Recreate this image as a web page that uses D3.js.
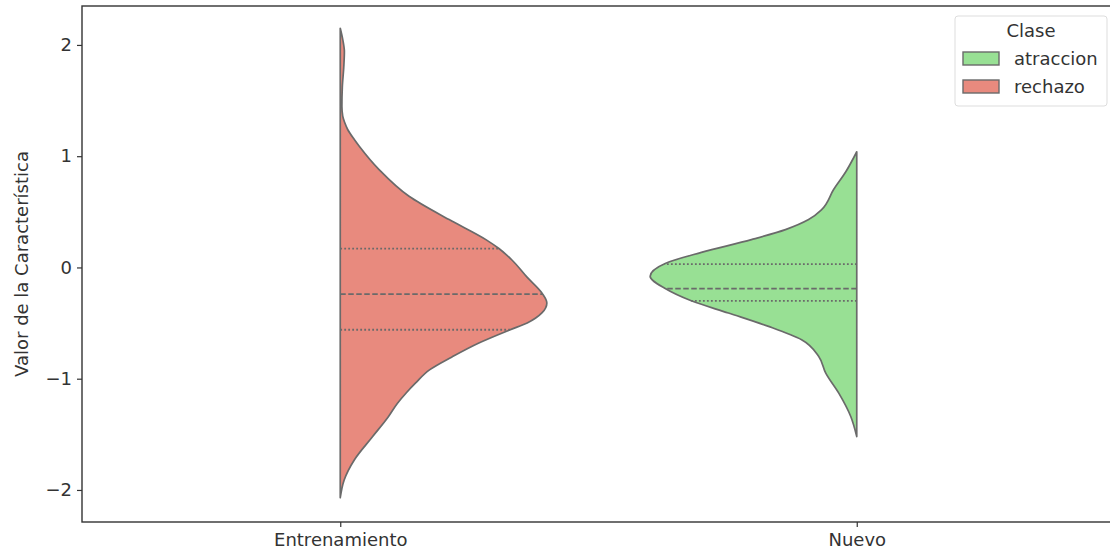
<!DOCTYPE html>
<html>
<head>
<meta charset="utf-8">
<script src="https://cdn.jsdelivr.net/npm/d3@7"></script>
<style>
  body { margin: 0; background: #fff; }
  svg { display: block; font-family: "DejaVu Sans", sans-serif; }
</style>
</head>
<body>
<div id="chart"></div>
<script>
// Categories and hue levels
const categories = ['Entrenamiento', 'Nuevo'];
const hues = ['atraccion', 'rechazo'];
const yTicks = [-2, -1, 0, 1, 2];

// Density profiles (value, relative width), top to bottom
const rechazoValues = [2.15, 2.05, 1.94, 1.80, 1.62, 1.45, 1.36, 1.30, 1.24, 1.15, 1.09, 0.88, 0.64, 0.43, 0.25, 0.17, 0.067, -0.085, -0.229, -0.319, -0.409, -0.499, -0.562, -0.679, -0.804, -0.921, -1.038, -1.128, -1.218, -1.344, -1.524, -1.73, -1.91, -2.07];
const rechazoDensity = [0, 0.012, 0.02, 0.017, 0.01, 0.008, 0.012, 0.022, 0.036, 0.068, 0.092, 0.188, 0.333, 0.527, 0.705, 0.768, 0.831, 0.903, 0.976, 1.0, 0.976, 0.905, 0.82, 0.671, 0.541, 0.432, 0.365, 0.319, 0.278, 0.232, 0.155, 0.068, 0.019, 0];
const rechazoQuartiles = [-0.56, -0.24, 0.17];

const atraccionValues = [1.04, 0.86, 0.70, 0.52, 0.43, 0.34, 0.25, 0.135, 0.036, -0.08, -0.19, -0.30, -0.41, -0.53, -0.65, -0.80, -0.95, -1.13, -1.34, -1.52];
const atraccionDensity = [0, 0.053, 0.112, 0.170, 0.233, 0.345, 0.510, 0.752, 0.927, 1.0, 0.927, 0.801, 0.621, 0.427, 0.267, 0.184, 0.150, 0.087, 0.029, 0];
const atraccionQuartiles = [-0.30, -0.19, 0.03];

const colors = { atraccion: '#98e094', rechazo: '#e88a7e' };
const edge = '#6a6a6a';
const fontSize = 18;

const width = 1110, height = 555;
const margin = { left: 82, top: 6, right: -5, bottom: 33 };

const svg = d3.select('#chart').append('svg')
  .attr('width', width)
  .attr('height', height);

const x = d3.scaleLinear()
  .domain([-0.5, 1.5])
  .range([margin.left, width - margin.right]);

const y = d3.scaleLinear()
  .domain([-2.288, 2.35])
  .range([height - margin.bottom, margin.top]);

const halfWidth = x(0.4) - x(0);

const violins = [
  { cat: 0, hue: 'rechazo', side: 1, values: rechazoValues, density: rechazoDensity, quart: rechazoQuartiles },
  { cat: 1, hue: 'atraccion', side: -1, values: atraccionValues, density: atraccionDensity, quart: atraccionQuartiles }
];

// Interpolate density at a value (for quartile line length)
function densityAt(v, values, density) {
  for (let i = 0; i < values.length - 1; i++) {
    const a = values[i], b = values[i + 1];
    if (v <= a && v >= b) {
      const t = (a - v) / (a - b);
      return density[i] + t * (density[i + 1] - density[i]);
    }
  }
  return 0;
}

violins.forEach(v => {
  const cx = x(v.cat);
  const pts = v.values.map((val, i) => [val, v.density[i]]);
  const area = d3.area()
    .y(d => y(d[0]))
    .x0(cx)
    .x1(d => cx + v.side * d[1] * halfWidth)
    .curve(d3.curveMonotoneY);

  svg.append('path')
    .datum(pts)
    .attr('d', area)
    .attr('fill', colors[v.hue])
    .attr('stroke', edge)
    .attr('stroke-width', 1.7)
    .attr('stroke-linejoin', 'round');

  v.quart.forEach((q, i) => {
    const w = densityAt(q, v.values, v.density) * halfWidth;
    svg.append('line')
      .attr('x1', cx)
      .attr('x2', cx + v.side * w)
      .attr('y1', y(q))
      .attr('y2', y(q))
      .attr('stroke', edge)
      .attr('stroke-width', 1.8)
      .attr('stroke-dasharray', i === 1 ? '5.5,2.5' : '1.8,2.2');
  });
});

// Axes
const yAxis = d3.axisLeft(y).tickValues(yTicks).tickSize(5).tickPadding(5)
  .tickFormat(d => d < 0 ? '\u2212' + Math.abs(d) : d);
svg.append('g')
  .attr('transform', `translate(${margin.left},0)`)
  .call(yAxis)
  .call(g => g.select('.domain').remove())
  .call(g => g.selectAll('.tick line').attr('stroke', '#333').attr('stroke-width', 1.2))
  .call(g => g.selectAll('.tick text').attr('font-size', fontSize).attr('fill', '#333').attr('font-family', '"DejaVu Sans", sans-serif'));

const xAxis = d3.axisBottom(x).tickValues([0, 1]).tickSize(5).tickPadding(6)
  .tickFormat(d => categories[d]);
svg.append('g')
  .attr('transform', `translate(0,${height - margin.bottom})`)
  .call(xAxis)
  .call(g => g.select('.domain').remove())
  .call(g => g.selectAll('.tick line').attr('stroke', '#333').attr('stroke-width', 1.2))
  .call(g => g.selectAll('.tick text').attr('font-size', fontSize).attr('fill', '#333').attr('font-family', '"DejaVu Sans", sans-serif'));

// Frame
svg.append('rect')
  .attr('x', margin.left)
  .attr('y', margin.top)
  .attr('width', x.range()[1] - margin.left)
  .attr('height', y.range()[0] - margin.top)
  .attr('fill', 'none')
  .attr('stroke', '#333')
  .attr('stroke-width', 1.4);

// Y label
svg.append('text')
  .attr('transform', `translate(28,${(y.range()[0] + y.range()[1]) / 2}) rotate(-90)`)
  .attr('text-anchor', 'middle')
  .attr('font-size', fontSize)
  .attr('fill', '#333')
  .text('Valor de la Característica');

// Legend
const legend = svg.append('g').attr('transform', 'translate(955,16)');
legend.append('rect')
  .attr('width', 152).attr('height', 90).attr('rx', 3)
  .attr('fill', '#fff').attr('fill-opacity', 0.8)
  .attr('stroke', '#ddd');
legend.append('text')
  .attr('x', 76).attr('y', 21)
  .attr('text-anchor', 'middle')
  .attr('font-size', fontSize).attr('fill', '#333')
  .text('Clase');
hues.forEach((h, i) => {
  legend.append('rect')
    .attr('x', 8).attr('y', 36 + i * 28)
    .attr('width', 36).attr('height', 13)
    .attr('fill', colors[h]).attr('stroke', edge).attr('stroke-width', 1.4);
  legend.append('text')
    .attr('x', 59).attr('y', 49 + i * 28)
    .attr('font-size', fontSize).attr('fill', '#333')
    .text(h);
});
</script>
</body>
</html>
